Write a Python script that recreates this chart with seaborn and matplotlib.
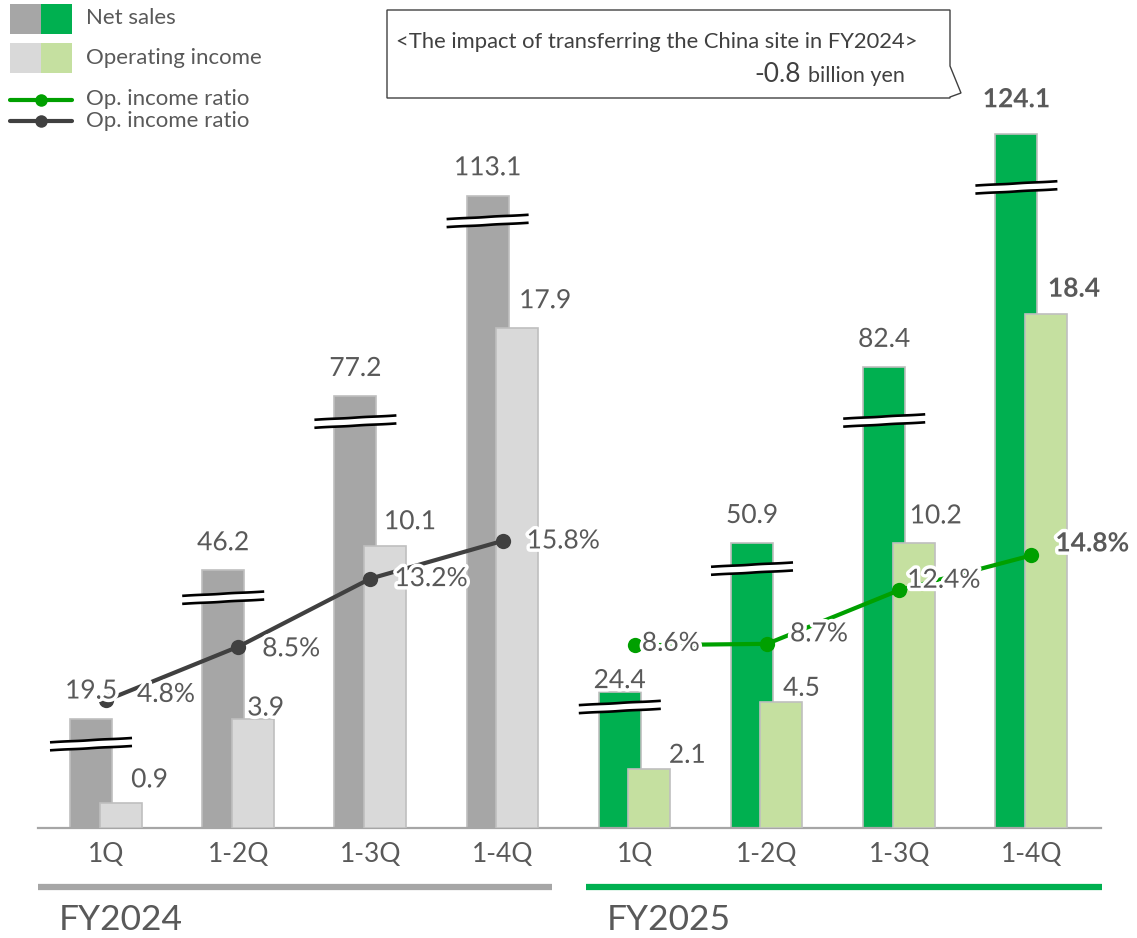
import numpy as np
import pandas as pd
import matplotlib
matplotlib.use("Agg")
import matplotlib.pyplot as plt
import matplotlib.patheffects as pe
from matplotlib.patches import Rectangle, Polygon
from matplotlib.lines import Line2D
import seaborn as sns

# ---- data (billion yen / %) ----
periods = ["1Q", "1-2Q", "1-3Q", "1-4Q", "1Q", "1-2Q", "1-3Q", "1-4Q"]
years = ["FY2024"] * 4 + ["FY2025"] * 4
net_sales = [19.5, 46.2, 77.2, 113.1, 24.4, 50.9, 82.4, 124.1]
op_income = [0.9, 3.9, 10.1, 17.9, 2.1, 4.5, 10.2, 18.4]
op_ratio = [4.8, 8.5, 13.2, 15.8, 8.6, 8.7, 12.4, 14.8]
china_impact = -0.8

# net sales bars are drawn on a compressed (broken) scale
NET_SCALE = 0.2

# ---- styling ----
W, H = 1137, 938
DPI = 100
TXT = "#595959"
C_NET = {"FY2024": "#a6a6a6", "FY2025": "#00b050"}
C_OP = {"FY2024": "#d9d9d9", "FY2025": "#c5e0a0"}
C_LINE = {"FY2024": "#404040", "FY2025": "#00a000"}
EDGE = "#bfbfbf"

sns.set_theme(style="white")
plt.rcParams["font.family"] = ["Lato", "DejaVu Sans"]

fig = plt.figure(figsize=(W / DPI, H / DPI), dpi=DPI)

# axes placement in pixels
AX_L, AX_R, AX_B, AX_T = 38, 1101, 828, 100
ax = fig.add_axes([AX_L / W, (H - AX_B) / H, (AX_R - AX_L) / W, (AX_B - AX_T) / H])

PX_X = 132.2       # pixels per category
PX_Y = 27.95       # pixels per billion yen (operating income scale)
X0 = 106           # pixel position of the first category
x_lo = -(X0 - AX_L) / PX_X
x_hi = x_lo + (AX_R - AX_L) / PX_X
y_hi = (AX_B - AX_T) / PX_Y

pos = np.arange(len(periods), dtype=float)
NET_OFF, OP_OFF = -15 / PX_X, 14.5 / PX_X
BAR_W = 42 / PX_X

df = pd.DataFrame({
    "pos": pos,
    "period": periods,
    "year": years,
    "net": net_sales,
    "op": op_income,
    "ratio": op_ratio,
})
df["net_h"] = df["net"] * NET_SCALE
df["net_x"] = df["pos"] + NET_OFF
df["op_x"] = df["pos"] + OP_OFF

sns.barplot(data=df, x="net_x", y="net_h", hue="year", palette=C_NET,
            native_scale=True, width=BAR_W, dodge=False, errorbar=None,
            saturation=1, edgecolor=EDGE, linewidth=1.2, legend=False,
            ax=ax, zorder=2)
sns.barplot(data=df, x="op_x", y="op", hue="year", palette=C_OP,
            native_scale=True, width=BAR_W, dodge=False, errorbar=None,
            saturation=1, edgecolor=EDGE, linewidth=1.2, legend=False,
            ax=ax, zorder=3)

ax.set_xlim(x_lo, x_hi)
ax.set_ylim(0, y_hi)
ax.set_xlabel("")
ax.set_ylabel("")
ax.set_yticks([])
ax.set_xticks(pos)
ax.set_xticklabels(periods, fontsize=19, color=TXT)
ax.tick_params(axis="x", length=0, pad=10)
for s in ["top", "left", "right"]:
    ax.spines[s].set_visible(False)
ax.spines["bottom"].set_color("#a6a6a6")
ax.spines["bottom"].set_linewidth(1.6)

# ---- axis-break marks across the net sales bars ----
break_depth = [0.9, 1.0, 0.9, 0.9, 0.55, 0.9, 1.9, 1.9]
bw = 82 / PX_X
gap = 8 / PX_Y
t = np.linspace(0, 1, 60)
wave = (2.2 / PX_Y) * np.tanh(5 * (t - 0.5)) + (0.8 / PX_Y) * np.sin(2 * np.pi * t)
for xc, h, d in zip(df["net_x"], df["net_h"], break_depth):
    yc = h - d
    xs = xc - bw / 2 + bw * t
    lo = yc - gap / 2 + wave
    hi = yc + gap / 2 + wave
    ax.fill_between(xs, lo, hi, color="white", zorder=4, lw=0)
    ax.plot(xs, lo, color="black", lw=1.9, zorder=5, solid_capstyle="butt")
    ax.plot(xs, hi, color="black", lw=1.9, zorder=5, solid_capstyle="butt")

# ---- operating income ratio on a secondary scale ----
ax2 = ax.twinx()
R_PX, R_OFF = 14.5, 58.0
r_lo = -R_OFF / R_PX
ax2.set_ylim(r_lo, r_lo + (AX_B - AX_T) / R_PX)
ax2.set_xlim(x_lo, x_hi)
ax2.set_yticks([])
for s in ax2.spines.values():
    s.set_visible(False)

for yr in ["FY2024", "FY2025"]:
    sub = df[df["year"] == yr]
    sns.lineplot(data=sub, x="pos", y="ratio", color=C_LINE[yr], lw=3,
                 marker="o", markersize=11, markeredgewidth=0,
                 ax=ax2, zorder=6, legend=False)
ax2.set_xlabel("")
ax2.set_ylabel("")

halo = [pe.withStroke(linewidth=5, foreground="white")]
PT = 72 / DPI

# net sales labels (pixel offsets above the bar top)
net_dy = [28, 27, 28, 28, 11, 28, 28, 35]
for i, r in df.iterrows():
    bold = i == len(df) - 1
    ax2.annotate(f"{r['net']:.1f}", xy=(r["net_x"], r["net_h"]), xycoords=ax.transData,
                 xytext=(0, net_dy[i] * PT), textcoords="offset points",
                 ha="center", va="center", fontsize=19, color=TXT,
                 fontweight="bold" if bold else "normal",
                 path_effects=halo, zorder=8)

# operating income labels
op_dx = [29, 13, 25, 28, 38, 20, 22, 28]
op_dy = [23, 11, 24, 27, 14, 14, 27, 25]
for i, r in df.iterrows():
    bold = i == len(df) - 1
    ax2.annotate(f"{r['op']:.1f}", xy=(r["op_x"], r["op"]), xycoords=ax.transData,
                 xytext=(op_dx[i] * PT, op_dy[i] * PT), textcoords="offset points",
                 ha="center", va="center", fontsize=19, color=TXT,
                 fontweight="bold" if bold else "normal",
                 path_effects=halo, zorder=8)

# ratio labels
r_dx = [31, 24, 24, 24, 7, 23, 8, 24]
r_dy = [6, -2, 0, 0, 2, 10, 10, 12]
for i, r in df.iterrows():
    bold = i == len(df) - 1
    ax2.annotate(f"{r['ratio']:.1f}%", xy=(r["pos"], r["ratio"]),
                 xytext=(r_dx[i] * PT, r_dy[i] * PT), textcoords="offset points",
                 ha="left", va="center", fontsize=19, color=TXT,
                 fontweight="bold" if bold else "normal",
                 path_effects=halo, zorder=9)

# ---- fiscal year underlines and captions ----
def fx(px):
    return px / W


def fy(py):
    return 1 - py / H


fig.add_artist(Line2D([fx(38), fx(552)], [fy(887), fy(887)], color="#a6a6a6", lw=4.5,
                      solid_capstyle="butt"))
fig.add_artist(Line2D([fx(586), fx(1102)], [fy(887), fy(887)], color="#00b050", lw=4.5,
                      solid_capstyle="butt"))
fig.text(fx(59), fy(920), "FY2024", fontsize=25.5, color=TXT, ha="left", va="center")
fig.text(fx(607), fy(920), "FY2025", fontsize=25.5, color=TXT, ha="left", va="center")

# ---- legend ----
def swatch(x, y, w, h, color):
    fig.add_artist(Rectangle((fx(x), fy(y + h)), w / W, h / H, transform=fig.transFigure,
                             facecolor=color, edgecolor="none"))


swatch(10, 4, 31, 30, C_NET["FY2024"])
swatch(41, 4, 31, 30, C_NET["FY2025"])
swatch(10, 43, 31, 30, C_OP["FY2024"])
swatch(41, 43, 31, 30, C_OP["FY2025"])
for yy, col in [(100, C_LINE["FY2025"]), (121, C_LINE["FY2024"])]:
    fig.add_artist(Line2D([fx(10), fx(72)], [fy(yy), fy(yy)], color=col, lw=3))
    fig.add_artist(Line2D([fx(41)], [fy(yy)], color=col, marker="o", markersize=9,
                          markeredgewidth=0))
leg_font = 16
fig.text(fx(86), fy(18), "Net sales", fontsize=leg_font, color=TXT, va="center")
fig.text(fx(86), fy(58), "Operating income", fontsize=leg_font, color=TXT, va="center")
fig.text(fx(86), fy(99), "Op. income ratio", fontsize=leg_font, color=TXT, va="center")
fig.text(fx(86), fy(121), "Op. income ratio", fontsize=leg_font, color=TXT, va="center")

# ---- callout box ----
box = [(387, 10), (950, 10), (950, 66), (961, 93), (950, 97), (950, 98), (387, 98)]
fig.add_artist(Polygon([(fx(a), fy(b)) for a, b in box], closed=True,
                       transform=fig.transFigure, facecolor="white",
                       edgecolor="#404040", lw=1.0))
fig.text(fx(396), fy(42), "<The impact of transferring the China site in FY2024>",
         fontsize=15.8, color="#404040", ha="left", va="center")
fig.text(fx(808), fy(76), "billion yen", fontsize=15.5, color="#404040",
         ha="left", va="center")
fig.text(fx(801), fy(74), f"{china_impact:.1f}", fontsize=19, color="#404040",
         ha="right", va="center")

fig.savefig("out.png", dpi=DPI)
